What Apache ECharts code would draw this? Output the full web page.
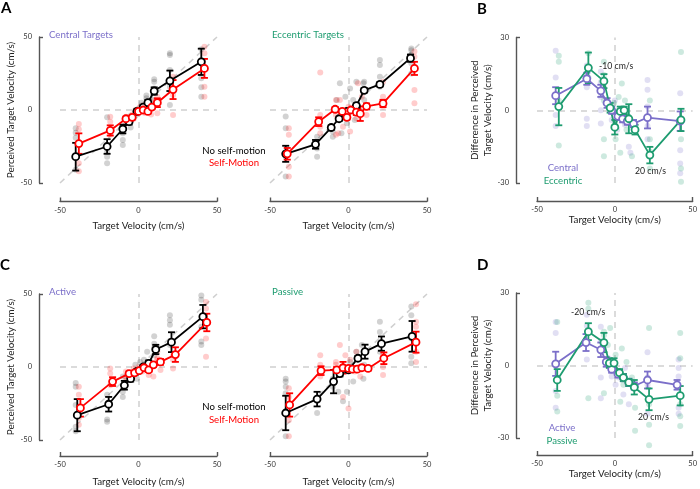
<!DOCTYPE html>
<html>
<head>
<meta charset="utf-8">
<script src="https://cdn.jsdelivr.net/npm/echarts@6/dist/echarts.min.js"></script>
<style>
  html, body { margin: 0; padding: 0; background: #fff; }
  #chart { width: 700px; height: 489px; }
</style>
</head>
<body>
<div id="chart"></div>
<script>
// tick labels
const velTicks = [-50, 0, 50]
const velEnds = [-50, 50]
const diffTicks = [-30, 0, 30]
const diffEnds = [-30, 30]

// group means: [target velocity, mean, error]
// A - central targets
const centralNoSelf = [[-40, -32, 9.5], [-20, -25, 5], [-10, -13, 3], [-6, -8, 2], [-1, -1, 1.5], [3, 2, 1.5], [6, 5, 2], [10, 13, 2.5], [20, 20, 7], [40, 33, 9]]
const centralSelf = [[-38, -23, 7], [-18, -14, 3.5], [-8, -6, 1.5], [-4, -5, 1.5], [0, -1, 1], [3, 0, 1], [6, -1, 1.5], [8.5, 2, 1.5], [12, 5, 3], [22, 14, 6.5], [42, 28.5, 6.5]]
// A - eccentric targets
const eccNoSelf = [[-40, -30, 5.5], [-21, -23.5, 3], [-11, -12, 1.5], [-6, -6, 1.5], [-1, -1, 1.5], [5, 3, 1.5], [10, 13.5, 1.5], [20, 17.5, 1.5], [39.5, 35.5, 2.5]]
const eccSelf = [[-39, -30, 4], [-19, -8, 3], [-8.5, 0.5, 1.5], [-4, -1, 1.5], [-1, -5, 1.5], [1.5, 0, 1], [5, -1.5, 2], [7.5, -2.5, 5], [11.5, 2.5, 2], [22, 4.5, 2.5], [42, 28.5, 4.5]]
// B - difference, central vs eccentric
const centralDiff = [[-38, 6, 3.5], [-18, 13, 2.5], [-9, 8, 2.5], [-5, 3, 2], [-2, 0, 1.5], [2, -2.5, 1.5], [5, -3.5, 1.5], [8, -4.5, 1.5], [12, -5.5, 1.5], [21, -3, 4.5], [42, -4.5, 4]]
const eccDiff = [[-36, 1.5, 7.7], [-17, 17.5, 6.3], [-7, 12, 2.9], [-3, 1, 2], [0, -7, 3], [3.5, -0.5, 2], [6, 0, 1.5], [9, -3.5, 6], [13, -8, 2], [22.5, -18.5, 3.4], [42.5, -4, 4.6]]
// C - active
const activeNoSelf = [[-39, -33, 11], [-19, -25.5, 5], [-9, -12.5, 3], [-5, -8, 2], [-1, -3, 1.5], [3, 0, 1.5], [6.5, 2.5, 2], [11, 12, 3.2], [21, 17, 6.8], [41, 34.5, 8]]
const activeSelf = [[-37, -28, 6], [-16.5, -10, 3], [-6, -4.5, 1.5], [-2.5, -4, 1.5], [0.5, -2.5, 1], [3.5, -0.5, 1], [6.5, -2, 1.5], [9.5, 1.5, 1.5], [14, 3.5, 2], [23.5, 8.5, 5], [43.5, 30.5, 6]]
// C - passive
const passiveNoSelf = [[-40, -31.5, 11.8], [-20, -22, 5], [-9.5, -10, 8], [-5.5, -4.5, 2], [0, -2, 1.5], [6, 6, 1.5], [10.5, 10.5, 4.8], [21, 16, 4.9], [40.5, 21, 10.5]]
const passiveSelf = [[-37.5, -26, 8], [-17.5, -2.5, 3], [-7.5, -2, 2], [-3.5, -0.5, 4], [0, -1, 1.5], [2.5, -1.5, 1.5], [5.5, -1.5, 1.5], [8.5, -0.5, 1.5], [12.5, -1, 1.5], [22.5, 6, 4], [43, 17, 7.2]]
// D - difference, active vs passive
const activeDiff = [[-38, 0.7, 5], [-18.5, 9.5, 3.5], [-9, 6.5, 3], [-5.5, 1.5, 2], [-2, -1.5, 1.5], [2, -3.5, 1.5], [5.5, -5, 1.5], [9, -7, 1.5], [12.5, -8.5, 1.5], [21, -6, 3.5], [40, -8, 2]]
const passiveDiff = [[-37, -6, 4.5], [-17, 14, 3.5], [-7, 9.5, 4], [-3.5, 1, 2], [-0.5, 1, 2], [3, -3, 1.5], [5.5, -5, 1.5], [9, -7, 1.5], [12.5, -9, 3], [22, -14, 4.5], [42, -12.5, 4]]

// single subjects: [target velocity, value]
const centralNoSelfSubj = [[-40, -12.5], [-40, -15.5], [-40, -19], [-40, -41], [-20, -5], [-20, -28.5], [-20, -32], [-20, -36.5], [-10, -13.5], [-10, -16], [-10, -20.5], [-10, -24], [-5, -4], [-5, -8], [-5, -12], [-2, -1], [-2, -4], [0, 1], [0, -2], [2, 3], [2, 5], [3, 0], [5, 8], [5, 4], [5, 10], [10, 6.8], [10, 14.8], [10, 19.4], [10, 21], [20, 3.4], [20, 16], [20, 27.4], [20, 37.7], [20, 38.8], [40, 9], [40, 15.5], [40, 21.7], [40, 34.2], [40, 41.6]]
const centralSelfSubj = [[-38, -9.6], [-38, -13.2], [-38, -36.5], [-38, -42], [-18, -4.6], [-18, -8], [-18, -14.8], [-18, -17], [-8, -4.6], [-8, -6.8], [-8, -9], [-4, -3], [-3, -6], [-2, 0], [-1, -2], [1, 2], [1, -1], [3, 3], [4, -2], [6, 1], [7, 4], [8, -3], [9, 6], [12, -2.3], [12, 4.6], [12, 9], [22, -3.4], [22, 10.3], [22, 14.8], [22, 22.8], [42, 9], [42, 16], [42, 38.8], [42, 43.4]]
const eccNoSelfSubj = [[-40, -4.5], [-40, -12.5], [-40, -32], [-40, -45.5], [-20, -18.3], [-20, -26.3], [-20, -32], [-10, -14.8], [-10, -18.3], [-5.5, 18.3], [1, 14.8], [5, 19.4], [9.5, 18.3], [-7.5, 6.8], [-2, 9], [3, 6.8], [7, 0], [-4.5, -16], [-1, -9], [4, -6.8], [10, 6.8], [10, 19.4], [20, 16], [20, 22.8], [20, 30.8], [20, 34.2], [40, 25], [40, 32], [40, 37.7], [40, 41], [40, 42.2]]
const eccSelfSubj = [[-38, -12.5], [-38, -17], [-38, -38.8], [-38, -45.5], [-18, 25.6], [-18, -3.4], [-18, -11.4], [-18, -16], [-8, 6.8], [-8, -3.4], [-8, -17], [-5.5, 6.8], [0, 2.3], [6, 18.3], [8.5, 9], [-3.5, -11.4], [1, -14.8], [5, -5.7], [11.5, -3.4], [-6.5, -16], [22, -3.4], [22, 2.3], [22, 9], [22, 19.4], [42, 4.6], [42, 13.7], [42, 36.5], [42, 40]]
const centralDiffSubj = [[-38, 24.5], [-38, 13.5], [-38, 5.5], [-38, -2], [-38, -6.5], [-18, 18.5], [-18, 9.5], [-18, -3.5], [-18, -6.5], [-9, 16], [-9, 11.5], [-9, 5.5], [-9, 0], [-9, -5.5], [0, 4], [2.5, 0], [4.5, -2.5], [6.5, -6], [-2, -4], [1.5, -8], [9, -15], [10, -17.5], [21, 12.5], [21, 8.5], [21, 1.5], [21, -6.5], [21, -12], [42, 7], [42, -16.5], [42, -22], [42, -26]]
const eccDiffSubj = [[-36, 22.5], [-36, 20], [-36, 4], [-36, -14.5], [-17, 23.5], [-17, 18], [-17, 13.5], [-7, 20], [-7, 14.5], [-7, 9.5], [-7, 4], [-7, -12], [-7, -19], [-0.5, 3], [2.5, 5.5], [4.5, 11], [6.5, 4], [0.5, -12], [3.5, -17.5], [7.5, -8], [11, -19], [22.5, 4], [22.5, -12], [22.5, -17], [22.5, -24], [42.5, 24], [42.5, -12], [42.5, -24], [42.5, -29.5]]
const activeNoSelfSubj = [[-40, -11], [-40, -13.5], [-40, -26], [-40, -41], [-40, -44], [-20, -19], [-20, -36], [-20, -37.5], [-10, -6.5], [-10, -17], [-10, -20.5], [-2, 1.5], [1, 3.5], [3.5, 5], [5.5, 10.5], [-4, -6.5], [-1, -8], [10, 8], [10, 13], [10, 16], [10, 21], [20, 15], [20, 29], [20, 32], [20, 35.5], [40, 15], [40, 17.5], [40, 27.5], [40, 46], [40, 49]]
const activeSelfSubj = [[-38, -13.5], [-38, -19], [-38, -35], [-38, -39.5], [-18, -1], [-18, -4.5], [-18, -12.5], [-8, -3], [-8, -6.5], [-8, -9], [-3, -1], [0, 0], [2.5, -3], [6.5, -5.5], [8.5, 1.5], [12, 5], [14, -2], [9.5, -6.5], [12, 10.5], [12, 6], [12, 2.5], [22, 8], [22, 5], [22, -1], [43, 7], [43, 19.5], [43, 40], [43, 44.5]]
const passiveNoSelfSubj = [[-40, -8], [-40, -10], [-40, -13.5], [-40, -18], [-40, -47.5], [-20, -21.5], [-20, -31.5], [-10, -8], [-10, -13.5], [-6.5, -17], [-3.5, -23.5], [3, -10], [1, 3.5], [5, 10.5], [8.5, 15], [9.5, -8], [-1, -17], [10, 10.5], [10, 1.5], [20, 31], [20, 24], [20, 15], [20, 10.5], [40, 41.5], [40, 35.5], [40, 19.5], [40, 7], [40, 2.5]]
const passiveSelfSubj = [[-38, -14.5], [-38, -20.5], [-38, -36.5], [-38, -47.5], [-18, 8], [-18, 1.5], [-18, -6.5], [-8, 3.5], [-8, 1.5], [-5.5, 15], [-2, 8], [1, 5], [4, -3], [7.5, -6.5], [0, -28.5], [-3.5, -20.5], [5, 10.5], [22, 8], [22, 0], [22, -5.5], [43, 43], [43, 31], [43, 27.5], [43, 10.5], [43, 3.5]]
const activeDiffSubj = [[-38, 18], [-38, 13.5], [-38, -10.5], [-38, -17.5], [-18, 21], [-18, 16.5], [-18, 2.5], [-9, 16], [-9, 10], [-9, -5], [-9, -13.5], [-4, 3], [-2, -4.5], [0.5, -8], [2.5, -5], [5.5, -12], [9, -16], [-0.5, -0.5], [6.5, -1], [21, 5.5], [21, -5], [21, -8], [21, -20], [41, 2.5], [41, -1], [41, -4.5], [41, -17.5], [41, -20]]
const passiveDiffSubj = [[-37, 18], [-37, -12.5], [-37, -19], [-17, 26], [-17, 23.5], [-17, -13.5], [-7, 14], [-7, 12.5], [-7, -11.5], [-4.5, 8.5], [-3, 15.5], [0.5, 4.5], [4.5, 7], [7.5, 1.5], [11, -5], [3.5, -15], [13, -17.5], [13, -27], [5.5, -8], [22, 15.5], [22, -16], [22, -24.5], [22, -33], [42, 13.5], [42, 3], [42, -16], [42, -21], [42, -25]]

const FONT = 'Lato'
const BLACK = '#000000'
const RED = '#ff0000'
const PURPLE = '#7b6fc9'
const GREEN = '#1e9c70'
const AXIS = '#555555'

const chart = echarts.init(document.getElementById('chart'), null, { renderer: 'canvas' })

// 面板网格位置
const grids = [
  { left: 60, top: 37, width: 157, height: 146 },
  { left: 270, top: 37, width: 157, height: 146 },
  { left: 537, top: 37.5, width: 158, height: 145.5 },
  { left: 60, top: 294, width: 157, height: 146 },
  { left: 270, top: 294, width: 157, height: 146 },
  { left: 537, top: 293, width: 158, height: 145 },
]

const xAx = (gi, offset, nameGap) => ({
  type: 'value', gridIndex: gi, min: -50, max: 50, offset,
  name: 'Target Velocity (cm/s)', nameLocation: 'middle', nameGap,
  nameTextStyle: { fontFamily: FONT, fontSize: 9.8, color: '#222' },
  axisLine: { show: true, onZero: false, lineStyle: { color: AXIS, width: 1.4 } },
  axisTick: { show: true, inside: true, length: 4, customValues: velEnds, lineStyle: { color: AXIS, width: 1.4 } },
  axisLabel: { customValues: velTicks, fontFamily: FONT, fontSize: 7.5, color: '#333', margin: 5 },
  splitLine: { show: false },
})

const yAx = (gi, show, ticks, ends, name) => ({
  type: 'value', gridIndex: gi, show,
  min: ends[0], max: ends[1], offset: 21,
  name, nameLocation: 'middle', nameGap: name && name.indexOf('\n') > 0 ? 14 : 20,
  nameTextStyle: { fontFamily: FONT, fontSize: 9.8, color: '#222', lineHeight: 12.5 },
  axisLine: { show: true, onZero: false, lineStyle: { color: AXIS, width: 1.4 } },
  axisTick: { show: true, inside: true, length: 4, customValues: ends, lineStyle: { color: AXIS, width: 1.4 } },
  axisLabel: { customValues: ticks, fontFamily: FONT, fontSize: 7.5, color: '#333', margin: 7 },
  splitLine: { show: false },
})

const refLines = (diagonal) => {
  const data = [{ yAxis: 0 }, { xAxis: 0 }]
  if (diagonal) data.push([{ coord: [-50, -50] }, { coord: [50, 50] }])
  return {
    silent: true, symbol: 'none', z: 1, animation: false,
    label: { show: false },
    lineStyle: { color: '#cfcfcf', type: [6, 5], width: 1.5 },
    emphasis: { disabled: true },
    data,
  }
}

const subjSeries = (name, pts, color, gi, markLine) => ({
  type: 'scatter', name, xAxisIndex: gi, yAxisIndex: gi, z: 2, clip: false,
  data: pts, symbolSize: 6,
  itemStyle: { color },
  emphasis: { disabled: true },
  markLine,
})

const errSeries = (name, pts, color, gi) => ({
  type: 'custom', name, xAxisIndex: gi, yAxisIndex: gi, z: 3,
  data: pts.map(p => [p[0], p[1] - p[2], p[1] + p[2]]),
  encode: { x: 0, y: [1, 2] },
  renderItem: (params, api) => {
    const lo = api.coord([api.value(0), api.value(1)])
    const hi = api.coord([api.value(0), api.value(2)])
    const w = 3.5
    const style = { stroke: color, lineWidth: 1.8 }
    return {
      type: 'group',
      children: [
        { type: 'line', shape: { x1: lo[0], y1: lo[1], x2: hi[0], y2: hi[1] }, style },
        { type: 'line', shape: { x1: lo[0] - w, y1: lo[1], x2: lo[0] + w, y2: lo[1] }, style },
        { type: 'line', shape: { x1: hi[0] - w, y1: hi[1], x2: hi[0] + w, y2: hi[1] }, style },
      ],
    }
  },
})

const meanSeries = (name, pts, color, gi) => ({
  type: 'line', name, xAxisIndex: gi, yAxisIndex: gi, z: 4,
  data: pts.map(p => [p[0], p[1]]),
  symbol: 'circle', symbolSize: 7, showAllSymbol: true,
  itemStyle: { color: '#fff', borderColor: color, borderWidth: 1.8 },
  lineStyle: { color, width: 1.8 },
  emphasis: { disabled: true },
})

// 一个面板：散点 + 误差线 + 均值折线
const panel = (gi, diagonal, a, b) => [
  subjSeries(a.name + ' subjects', a.subj, a.light, gi, refLines(diagonal)),
  subjSeries(b.name + ' subjects', b.subj, b.light, gi),
  errSeries(a.name + ' error', a.mean, a.color, gi),
  meanSeries(a.name, a.mean, a.color, gi),
  errSeries(b.name + ' error', b.mean, b.color, gi),
  meanSeries(b.name, b.mean, b.color, gi),
]

const noSelf = (mean, subj) => ({ name: 'No self-motion', mean, subj, color: BLACK, light: 'rgba(0,0,0,0.22)' })
const self = (mean, subj) => ({ name: 'Self-Motion', mean, subj, color: RED, light: 'rgba(255,0,0,0.25)' })

const series = [
  ...panel(0, true, noSelf(centralNoSelf, centralNoSelfSubj), self(centralSelf, centralSelfSubj)),
  ...panel(1, true, noSelf(eccNoSelf, eccNoSelfSubj), self(eccSelf, eccSelfSubj)),
  ...panel(2, false,
    { name: 'Central', mean: centralDiff, subj: centralDiffSubj, color: PURPLE, light: 'rgba(123,111,201,0.28)' },
    { name: 'Eccentric', mean: eccDiff, subj: eccDiffSubj, color: GREEN, light: 'rgba(30,156,112,0.28)' }),
  ...panel(3, true, noSelf(activeNoSelf, activeNoSelfSubj), self(activeSelf, activeSelfSubj)),
  ...panel(4, true, noSelf(passiveNoSelf, passiveNoSelfSubj), self(passiveSelf, passiveSelfSubj)),
  ...panel(5, false,
    { name: 'Active', mean: activeDiff, subj: activeDiffSubj, color: PURPLE, light: 'rgba(123,111,201,0.28)' },
    { name: 'Passive', mean: passiveDiff, subj: passiveDiffSubj, color: GREEN, light: 'rgba(30,156,112,0.28)' }),
]

const txt = (text, left, top, color, size, extra) => Object.assign({
  text, left, top, padding: 0,
  textStyle: { fontFamily: FONT, fontSize: size, fontWeight: 'normal', color },
}, extra || {})

const letter = (text, left, top) => ({
  text, left, top, padding: 0,
  textStyle: { fontFamily: FONT, fontSize: 15, fontWeight: 'bold', color: '#000' },
})

const titles = [
  letter('A', 1, 1),
  letter('B', 477, 2),
  letter('C', 0, 258),
  letter('D', 477, 258),
  txt('Central Targets', 49, 30, PURPLE, 9.7),
  txt('Eccentric Targets', 272, 30, GREEN, 9.7),
  txt('Active', 49, 287, PURPLE, 9.7),
  txt('Passive', 272, 287, GREEN, 9.7),
  txt('No self-motion', 234, 146, BLACK, 9.6, { textAlign: 'center' }),
  txt('Self-Motion', 234, 158, RED, 9.6, { textAlign: 'center' }),
  txt('No self-motion', 234, 402, BLACK, 9.6, { textAlign: 'center' }),
  txt('Self-Motion', 234, 415, RED, 9.6, { textAlign: 'center' }),
  txt('Central', 563, 163, PURPLE, 9.6, { textAlign: 'center' }),
  txt('Eccentric', 563, 176, GREEN, 9.6, { textAlign: 'center' }),
  txt('Active', 562, 423, PURPLE, 9.6, { textAlign: 'center' }),
  txt('Passive', 562, 436, GREEN, 9.6, { textAlign: 'center' }),
  txt('-10 cm/s', 599, 62, '#222', 8.7),
  txt('20 cm/s', 635, 167, '#222', 8.7),
  txt('-20 cm/s', 571, 308, '#222', 8.7),
  txt('20 cm/s', 638, 413, '#222', 8.7),
]

const yName = 'Perceived Target Velocity (cm/s)'
const dName = 'Difference in Perceived\nTarget Velocity (cm/s)'

const option = {
  animation: false,
  backgroundColor: '#fff',
  title: titles,
  grid: grids,
  xAxis: [xAx(0, 18.5, 19), xAx(1, 18.5, 19), xAx(2, 18, 10), xAx(3, 16, 21), xAx(4, 16, 21), xAx(5, 17, 11)],
  yAxis: [
    yAx(0, true, velTicks, velEnds, yName),
    yAx(1, false, velTicks, velEnds, ''),
    yAx(2, true, diffTicks, diffEnds, dName),
    yAx(3, true, velTicks, velEnds, yName),
    yAx(4, false, velTicks, velEnds, ''),
    yAx(5, true, diffTicks, diffEnds, dName),
  ],
  series,
}

chart.setOption(option)
window.addEventListener('resize', () => {
  chart.resize()
})
</script>
</body>
</html>
